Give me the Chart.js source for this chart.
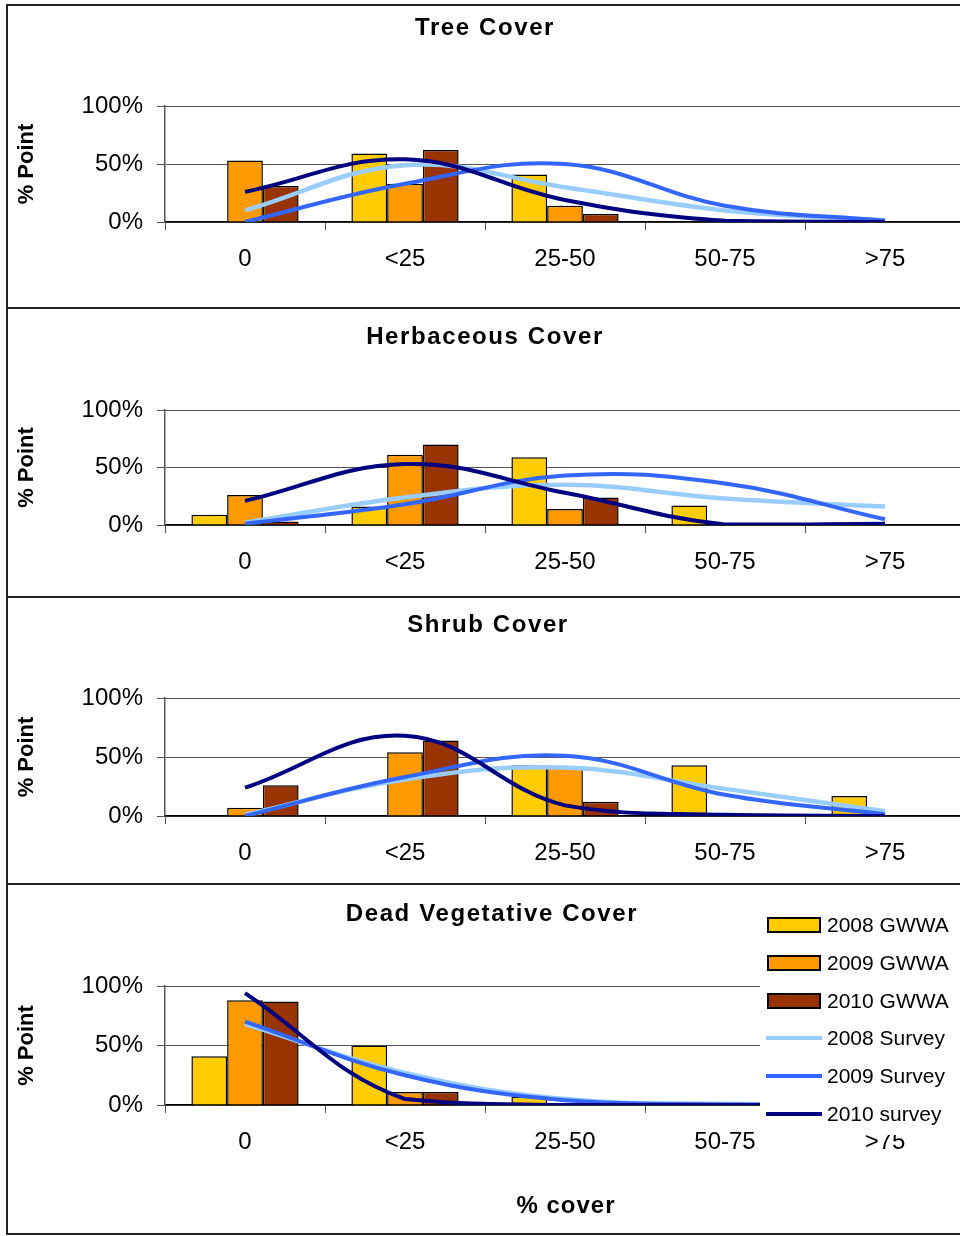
<!DOCTYPE html>
<html>
<head>
<meta charset="utf-8">
<script src="https://cdn.jsdelivr.net/npm/chart.js@4.4.1/dist/chart.umd.min.js"></script>
<style>
  html, body { margin: 0; padding: 0; background: #fff; }
  body { width: 960px; height: 1236px; overflow: hidden; position: relative; font-family: "Liberation Sans", Arial, sans-serif; }
  canvas { position: absolute; left: 0; }
  .frame { position: absolute; left: 6px; width: 1000px; border: 2px solid #222; box-sizing: border-box; }
  .title { position: absolute; width: 600px; text-align: center; font-weight: bold; font-size: 24px; line-height: 26px; letter-spacing: 1.6px; color: #000; }
  #legend { position: absolute; left: 760px; top: 902px; width: 210px; height: 233px; background: #fff; }
  .item { position: absolute; left: 6px; height: 24px; font-size: 21px; line-height: 24px; color: #000; }
  .item .sw { position: absolute; left: 0; }
  .item .tx { position: absolute; left: 61px; white-space: nowrap; }
</style>
</head>
<body>
<div id="legend"></div>
<script>
// categories and tick values
const categories = ['0', '<25', '25-50', '50-75', '>75'];
const yTicks = [0, 50, 100];
const seriesNames = ['2008 GWWA', '2009 GWWA', '2010 GWWA', '2008 Survey', '2009 Survey', '2010 survey'];

// Tree Cover (% of points)
const tree2008GWWA = [null, 59, 41, null, null];
const tree2009GWWA = [53, 33, 14, null, null];
const tree2010GWWA = [31, 62, 7, null, null];
const tree2008Survey = [10, 49, 30, 10, 1.5];
const tree2009Survey = [0, 33, 50, 14, 1];
const tree2010Survey = [26, 54, 19, 1, 0];

// Herbaceous Cover
const herb2008GWWA = [9, 16, 59, 17, null];
const herb2009GWWA = [26, 61, 14, null, null];
const herb2010GWWA = [3, 70, 24, null, null];
const herb2008Survey = [2, 24, 35, 23, 16];
const herb2009Survey = [1, 18, 43, 36, 5];
const herb2010Survey = [21, 53, 28, 0.5, 1];

// Shrub Cover
const shrub2008GWWA = [null, null, 43, 43, 17];
const shrub2009GWWA = [7, 54, 42, null, null];
const shrub2010GWWA = [26, 64, 12, null, null];
const shrub2008Survey = [1, 31, 41, 23, 4];
const shrub2009Survey = [0, 33, 51, 18, 1.5];
const shrub2010Survey = [24, 68, 9, 1, 0];

// Dead Vegetative Cover
const dead2008GWWA = [41, 50, 7, null, null];
const dead2009GWWA = [88, 11, null, null, null];
const dead2010GWWA = [87, 11, null, null, null];
const dead2008Survey = [68, 27, 5, 1, 0.5];
const dead2009Survey = [70, 25, 4, 0.5, 0];
const dead2010Survey = [94, 5, 0, 0, 0];

const colors = ['#FFCC00', '#FF9900', '#993300', '#99CCFF', '#3366FF', '#000080'];

const panels = [
  { title: 'Tree Cover', top: 4, h: 303, plotTop: 102, plotH: 116, titleY: 27, titleX: 485,
    series: [tree2008GWWA, tree2009GWWA, tree2010GWWA, tree2008Survey, tree2009Survey, tree2010Survey] },
  { title: 'Herbaceous Cover', top: 307, h: 289, plotTop: 103, plotH: 115, titleY: 336, titleX: 485,
    series: [herb2008GWWA, herb2009GWWA, herb2010GWWA, herb2008Survey, herb2009Survey, herb2010Survey] },
  { title: 'Shrub Cover', top: 596, h: 287, plotTop: 102, plotH: 118, titleY: 624, titleX: 488,
    series: [shrub2008GWWA, shrub2009GWWA, shrub2010GWWA, shrub2008Survey, shrub2009Survey, shrub2010Survey] },
  { title: 'Dead Vegetative Cover', top: 883, h: 353, plotTop: 103, plotH: 119, titleY: 913, titleX: 492,
    series: [dead2008GWWA, dead2009GWWA, dead2010GWWA, dead2008Survey, dead2009Survey, dead2010Survey] }
];

Chart.defaults.font.family = '"Liberation Sans", Arial, sans-serif';
Chart.defaults.color = '#000';

const legendEl = document.getElementById('legend');

panels.forEach((p, idx) => {
  let canvas = document.createElement('canvas');
  canvas.width = 965;
  canvas.height = p.h;
  canvas.style.top = p.top + 'px';
  document.body.insertBefore(canvas, legendEl);

  let frame = document.createElement('div');
  frame.className = 'frame';
  frame.style.top = p.top + 'px';
  frame.style.height = (idx === 3 ? 1236 - p.top - 1 : p.h + 2) + 'px';
  document.body.insertBefore(frame, legendEl);

  let t = document.createElement('div');
  t.className = 'title';
  t.textContent = p.title;
  t.style.left = (p.titleX - 300) + 'px';
  t.style.top = (p.titleY - 13) + 'px';
  document.body.insertBefore(t, legendEl);

  let datasets = [];
  for (let i = 0; i < 3; i++) {
    datasets.push({
      type: 'bar',
      label: seriesNames[i],
      data: p.series[i],
      backgroundColor: colors[i],
      borderColor: '#000',
      borderWidth: 1.5,
      categoryPercentage: 0.67,
      barPercentage: 1.0,
      order: 10
    });
  }
  // lines on top (lower order is drawn last)
  for (let i = 3; i < 6; i++) {
    datasets.push({
      type: 'line',
      label: seriesNames[i],
      data: p.series[i],
      borderColor: colors[i],
      borderWidth: i === 3 ? 4.5 : 4,
      pointRadius: 0,
      tension: 0.4,
      fill: false,
      order: 5 - i
    });
  }

  const xHeight = p.h - p.plotTop - p.plotH;

  new Chart(canvas.getContext('2d'), {
    type: 'bar',
    data: { labels: categories, datasets: datasets },
    options: {
      responsive: false,
      animation: false,
      devicePixelRatio: 1,
      layout: { padding: { top: p.plotTop, left: 0, right: 0, bottom: 0 } },
      plugins: { legend: { display: false }, tooltip: { enabled: false }, title: { display: false } },
      scales: {
        x: {
          offset: true,
          afterFit: (s) => { s.height = xHeight; },
          grid: { display: true, drawOnChartArea: false, drawTicks: true, tickLength: 8, color: '#555', offset: true },
          border: { display: true, color: '#000', width: 1.5 },
          ticks: { font: { size: 24 }, padding: 15, maxRotation: 0, autoSkip: false }
        },
        y: {
          min: 0, max: 100,
          afterFit: (s) => { s.width = 165; },
          afterBuildTicks: (s) => { s.ticks = yTicks.map(v => ({ value: v })); },
          grid: { color: '#555', lineWidth: 1, tickLength: 8, drawTicks: true },
          border: { display: true, color: '#555', width: 1.5 },
          ticks: { font: { size: 24 }, padding: 14, callback: (v) => v + '%' },
          title: { display: true, text: '% Point', font: { size: 22, weight: 'bold' }, padding: { top: 14, bottom: 0 } }
        }
      }
    }
  });
});

// x axis title of the bottom panel
let xt = document.createElement('div');
xt.className = 'title';
xt.textContent = '% cover';
xt.style.letterSpacing = '1px';
xt.style.left = (566 - 300) + 'px';
xt.style.top = (1205 - 13) + 'px';
document.body.appendChild(xt);

// legend
const legendY = [22.5, 61, 99, 136, 174, 212];
seriesNames.forEach((name, i) => {
  let item = document.createElement('div');
  item.className = 'item';
  item.style.top = (legendY[i] - 12) + 'px';
  let sw = document.createElement('span');
  sw.className = 'sw';
  if (i < 3) {
    sw.style.cssText = 'left:1px;top:4px;width:54px;height:16px;box-sizing:border-box;border:2px solid #000;background:' + colors[i];
  } else {
    sw.style.cssText = 'left:0;top:10px;width:56px;height:4px;background:' + colors[i];
  }
  let tx = document.createElement('span');
  tx.className = 'tx';
  tx.textContent = name;
  item.appendChild(sw);
  item.appendChild(tx);
  legendEl.appendChild(item);
});
document.body.appendChild(legendEl);
</script>
</body>
</html>
